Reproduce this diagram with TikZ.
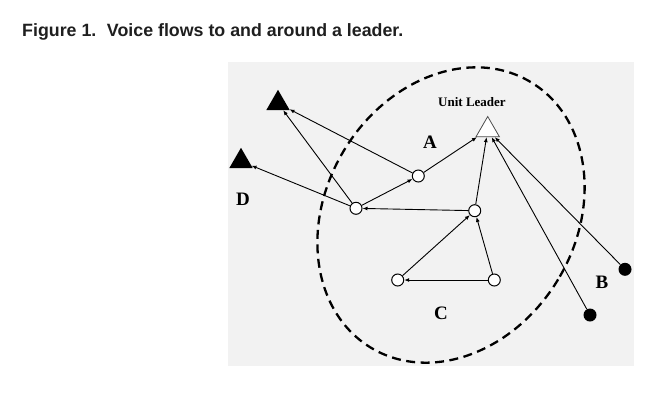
\documentclass[tikz,border=0pt]{standalone}
\usepackage{fontspec}
\setmainfont{Liberation Serif}
\newfontfamily\captionfont{Liberation Sans}
\usetikzlibrary{shapes.geometric,arrows.meta}

\begin{document}
\begin{tikzpicture}[x=1pt, y=-1pt,
  member/.style={circle,draw,fill=white,line width=1pt,inner sep=0pt,minimum size=12pt},
  outsider/.style={circle,fill=black,inner sep=0pt,minimum size=13pt},
  target/.style={regular polygon,regular polygon sides=3,fill=black,inner sep=0pt,minimum size=27pt},
  boss/.style={regular polygon,regular polygon sides=3,draw=black!70,fill=white,line width=0.8pt,inner sep=0pt,minimum size=27pt},
  flow/.style={-{Latex[length=5pt,width=4pt]},line width=0.9pt},
  tag/.style={font=\bfseries\fontsize{19}{19}\selectfont}]
\useasboundingbox (0,0) rectangle (660,405);
\node[anchor=base west,inner sep=0pt,text=black!88,font=\captionfont\bfseries\fontsize{17.8}{18}\selectfont] (title) at (22,36) {Figure 1.\hspace{4pt} Voice flows to and around a leader.};
\fill[black!5] (228,62) rectangle (634,366);
\draw[line width=2.3pt,dash pattern=on 9pt off 5.5pt,rotate around={-31:(451,215)}] (451,215) ellipse [x radius=125, y radius=155];
\node[target] (tri1) at (278,103.3) {};
\node[target] (tri2) at (241,161.3) {};
\node[boss] (lead) at (487.7,130) {};
\node[member] (a1) at (418.3,176) {};
\node[member] (hub) at (356,208.3) {};
\node[member] (mid) at (474.7,210.7) {};
\node[member] (cl) at (397.7,280) {};
\node[member] (cr) at (494.3,280) {};
\node[outsider] (b1) at (625,269.3) {};
\node[outsider] (b2) at (590,315) {};
\node[font=\bfseries\fontsize{13}{13}\selectfont] (ltext) at (472,102) {Unit Leader};
\node[tag] (la) at (430,142) {A};
\node[tag] (lb) at (602,282) {B};
\node[tag] (lc) at (441,313) {C};
\node[tag] (ld) at (243,199) {D};
\draw[flow] (a1) -- (tri1);
\draw[flow] (hub) -- (tri1);
\draw[flow] (hub) -- (tri2);
\draw[flow] (hub) -- (a1);
\draw[flow] (a1) -- (lead);
\draw[flow] (mid) -- (hub);
\draw[flow] (mid) -- (lead);
\draw[flow] (cl) -- (mid);
\draw[flow] (cr) -- (mid);
\draw[flow] (cr) -- (cl);
\draw[flow] (b1) -- (lead);
\draw[flow] (b2) -- (lead);
\end{tikzpicture}
\end{document}
